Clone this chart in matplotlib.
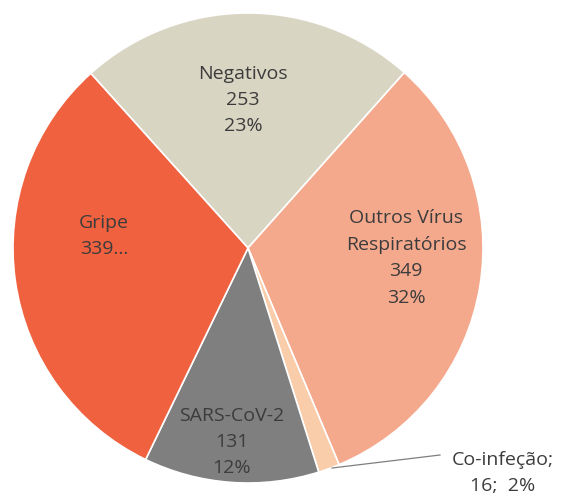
import matplotlib
matplotlib.use("Agg")
import matplotlib.pyplot as plt

categories = ["Negativos", "Outros Vírus\nRespiratórios", "Co-infeção", "SARS-CoV-2", "Gripe"]
values = [253, 349, 16, 131, 339]
percent_labels = ["23%", "32%", "2%", "12%", "31%"]
colors = ["#D9D5C3", "#F4A98D", "#F9CCAA", "#7F7F7F", "#F0613F"]

plt.rcParams['font.family'] = ['Open Sans', 'DejaVu Sans']

W, H = 565, 495
fig = plt.figure(figsize=(W / 100, H / 100), dpi=100)
ax = fig.add_axes([0, 0, 1, 1])

cx, cy, r = 248, H - 248, 235
ax.pie(values, colors=colors, startangle=132, counterclock=False,
       center=(cx, cy), radius=r, frame=True,
       wedgeprops=dict(edgecolor='white', linewidth=1.2))
ax.set_xlim(0, W)
ax.set_ylim(0, H)
ax.set_aspect('equal')
ax.axis('off')

tc = "#3C3C3C"
fs = 14
ls = 1.6

def T(x, y, s, **kw):
    ax.text(x, H - y, s, ha='center', va='center', fontsize=fs, color=tc,
            linespacing=ls, **kw)

T(243, 100, f"{categories[0]}\n{values[0]}\n{percent_labels[0]}")
T(406, 258, f"{categories[1]}\n{values[1]}\n{percent_labels[1]}")
T(104, 236, f"{categories[4]}\n{values[4]}...")
T(232, 442, f"{categories[3]}\n{values[3]}\n{percent_labels[3]}")
T(503, 473, f"{categories[2]};\n{values[2]};  {percent_labels[2]}")

ax.plot([332, 440], [H - 468, H - 455], color="#7F7F7F", linewidth=0.9)

fig.savefig("out.png", dpi=100)
